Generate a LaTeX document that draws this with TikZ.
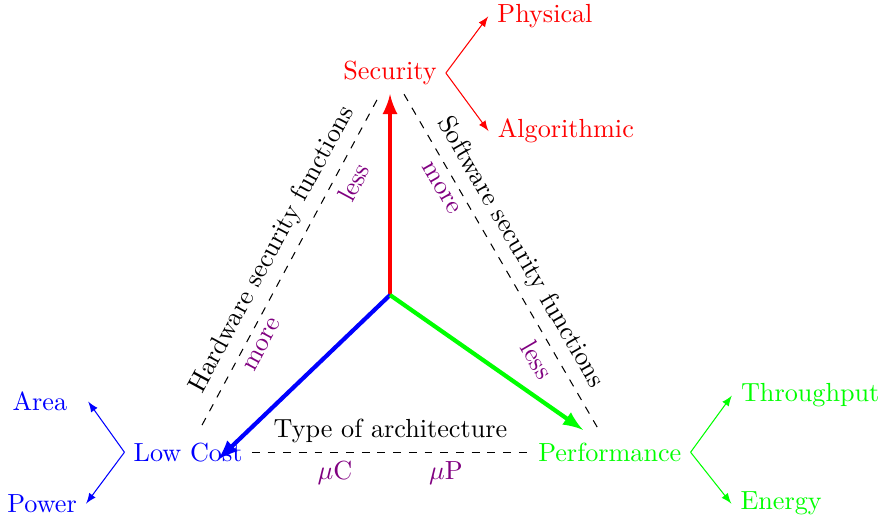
\documentclass[tikz,border=0pt]{standalone}
\usepackage{tikz}
\usetikzlibrary{arrows, calc}
\tikzset{
    my-axis/.style={
        -latex, line width=1.6pt
    },
    my-branch/.style={
        -latex, line width=0.4pt
    },
    my-edge/.style={
        dashed, black
    },
    my-hint/.style={
        violet, sloped
    },
}
\begin{document}
\begin{tikzpicture}

        \useasboundingbox (-5.235,-3.0) rectangle (6.617,3.96);

        % CENTRE AND CORNERS
        \coordinate[]  (O)        at (0, 0);
        \node[red]     (SEC)      at (0, 2.98)     {Security};
        \node[blue]    (LOWCOST)  at (-2.71, -2.11) {Low Cost};
        \node[green]   (PERF)     at (2.95, -2.11)  {Performance};
        \coordinate[]  (COSTTIP)  at (-2.31, -2.21) {};
        \coordinate[]  (PERFTIP)  at (2.59, -1.81)  {};

        % SUB GOALS
        \node[red]     (PHYS)     at (2.08, 3.74)   {Physical};
        \node[red]     (ALGO)     at (2.36, 2.20)   {Algorithmic};
        \node[blue]    (AREA)     at (-4.70, -1.43) {Area};
        \node[blue]    (POWER)    at (-4.67, -2.80) {Power};
        \node[green]   (THRU)     at (5.64, -1.35)  {Throughput};
        \node[green]   (ENERGY)   at (5.25, -2.80)  {Energy};

        % MAIN AXES
        \draw[my-axis, red]   (O) -- (SEC.south);
        \draw[my-axis, blue]  (O) -- (COSTTIP);
        \draw[my-axis, green] (O) -- (PERFTIP);

        % BRANCHES
        \draw[my-branch, red]   (SEC.east)     -- (PHYS.west);
        \draw[my-branch, red]   (SEC.east)     -- (ALGO.west);
        \draw[my-branch, blue]  (LOWCOST.west) -- ([xshift=4.5pt]AREA.east);
        \draw[my-branch, blue]  (LOWCOST.west) -- (POWER.east);
        \draw[my-branch, green] (PERF.east)    -- (THRU.west);
        \draw[my-branch, green] (PERF.east)    -- (ENERGY.west);

        % DASHED SIDES
        \coordinate[] (HWTOP) at ($(SEC.south) + (-0.134, 0)$) {};
        \coordinate[] (HWBOT) at (-2.523, -1.745) {};
        \coordinate[] (SWTOP) at ($(SEC.south) + (0.188, 0)$)  {};
        \coordinate[] (SWBOT) at (2.819, -1.839)  {};

        \draw[my-edge] (HWBOT) -- (HWTOP)
            node[midway, above, sloped] {Hardware security functions}
            node[my-hint, pos=.265, below] {more}
            node[my-hint, pos=.76, below]  {less};
        \draw[my-edge] (SWTOP) -- (SWBOT)
            node[midway, above, sloped] {Software security functions}
            node[my-hint, pos=.255, below] {more}
            node[my-hint, pos=.76, below]  {less};
        \draw[my-edge] (LOWCOST.east) -- (PERF.west)
            node[midway, above] {Type of architecture}
            node[violet, pos=.3, below] {$\mu$C}
            node[violet, pos=.7, below] {$\mu$P};

\end{tikzpicture}
\end{document}
